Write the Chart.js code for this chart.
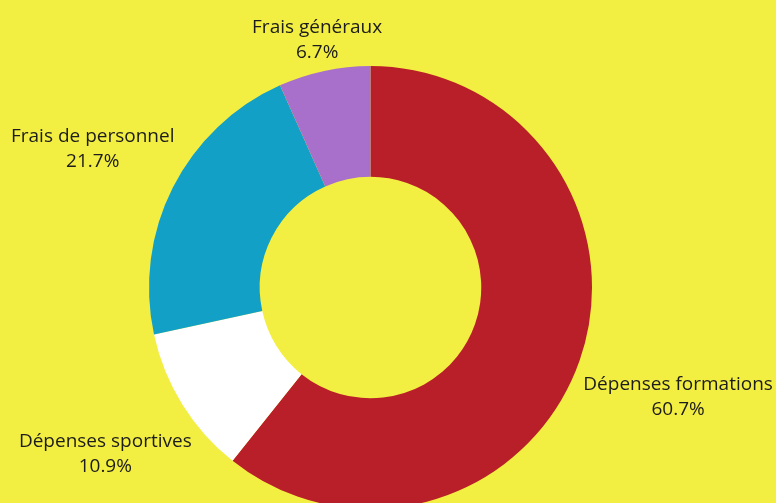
<!DOCTYPE html>
<html>
<head>
<meta charset="utf-8">
<script src="https://cdn.jsdelivr.net/npm/chart.js@4"></script>
<style>
  html, body { margin:0; padding:0; background:#F3EE42; overflow:hidden; }
  #wrap { width:776px; height:520px; position:relative; }
</style>
</head>
<body>
<div id="wrap"><canvas id="c" width="776" height="520"></canvas></div>
<script>
const categories = ["Dépenses formations", "Dépenses sportives", "Frais de personnel", "Frais généraux"];
const values = [60.7, 10.9, 21.7, 6.7];
const colors = ["#B91F29", "#FFFFFF", "#13A0C6", "#A970CB"];

const FONT = '400 19px "Open Sans"';
const outsideLabels = {
  id: 'outsideLabels',
  afterDraw(chart) {
    const ctx = chart.ctx;
    const meta = chart.getDatasetMeta(0);
    ctx.save();
    ctx.font = FONT;
    ctx.fillStyle = '#1c1c1c';
    ctx.textAlign = 'center';
    ctx.textBaseline = 'middle';
    meta.data.forEach((arc, i) => {
      const p = arc.getProps(['x','y','startAngle','endAngle','outerRadius'], true);
      const mid = (p.startAngle + p.endAngle) / 2;
      const dx = Math.cos(mid), dy = Math.sin(mid);
      const l1 = categories[i], l2 = values[i].toFixed(1) + '%';
      const hw = Math.max(ctx.measureText(l1).width, ctx.measureText(l2).width) / 2;
      const hh = 20;
      const cx = hw * Math.sign(dx), cy = hh * Math.sign(dy);
      const R = p.outerRadius + 8.6;
      const dc = dx * cx + dy * cy;
      const t = dc + Math.sqrt(dc * dc - (cx * cx + cy * cy) + R * R);
      const lx = p.x + t * dx, ly = p.y + t * dy;
      ctx.fillText(l1, lx, ly - 10.5);
      ctx.fillText(l2, lx, ly + 14.5);
    });
    ctx.restore();
  }
};

new Chart(document.getElementById('c'), {
  type: 'doughnut',
  data: {
    labels: categories,
    datasets: [{ data: values, backgroundColor: colors, borderWidth: 0 }]
  },
  options: {
    responsive: false,
    animation: false,
    cutout: '50%',
    layout: { padding: { top: 66, bottom: 11, left: 149, right: 184 } },
    plugins: { legend: { display: false }, tooltip: { enabled: false } }
  },
  plugins: [outsideLabels]
});
</script>
</body>
</html>
